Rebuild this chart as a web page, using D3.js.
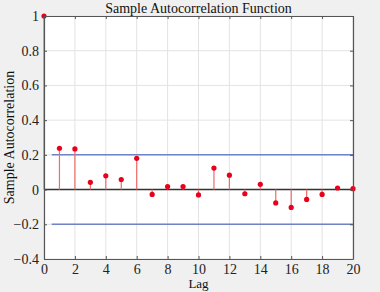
<!DOCTYPE html>
<html>
<head>
<meta charset="utf-8">
<script src="https://cdn.jsdelivr.net/npm/d3@7"></script>
<style>
  html, body { margin: 0; padding: 0; background: #f0f0f0; }
  svg { display: block; }
  svg text { font-family: "Liberation Serif", "Times New Roman", serif; }
</style>
</head>
<body>
<svg id="chart"></svg>
<script>
const lags = d3.range(0, 21);
const acf = [1, 0.238, 0.234, 0.042, 0.079, 0.058, 0.18, -0.028, 0.017, 0.017, -0.031,
  0.124, 0.083, -0.024, 0.03, -0.077, -0.103, -0.057, -0.028, 0.009, 0.005];
const bound = 0.2;
const xTicks = [0, 2, 4, 6, 8, 10, 12, 14, 16, 18, 20];
const yTicks = [-0.4, -0.2, 0, 0.2, 0.4, 0.6, 0.8, 1];

const W = 380, H = 292;
const margin = { top: 16, right: 27, bottom: 33, left: 44 };
const width = W - margin.left - margin.right,
    height = H - margin.top - margin.bottom;

const svgRoot = d3.select("#chart").attr("width", W).attr("height", H);
const svg = svgRoot.append("g").attr("transform", `translate(${margin.left},${margin.top})`);

const x = d3.scaleLinear().domain([0, 20]).range([0, width]);
const y = d3.scaleLinear().domain([-0.4, 1]).range([height, 0]);

svg.append("rect").attr("width", width).attr("height", height).attr("fill", "#fff");

// grid
svg.append("g").selectAll("line").data(xTicks).enter().append("line")
    .attr("x1", d => x(d)).attr("x2", d => x(d))
    .attr("y1", 0).attr("y2", height)
    .attr("stroke", "#e3e3e3").attr("stroke-width", 1);
svg.append("g").selectAll("line").data(yTicks).enter().append("line")
    .attr("y1", d => y(d)).attr("y2", d => y(d))
    .attr("x1", 0).attr("x2", width)
    .attr("stroke", "#e3e3e3").attr("stroke-width", 1);

// confidence bounds
[bound, -bound].forEach(b => {
    svg.append("line")
        .attr("x1", x(0.5)).attr("x2", x(20))
        .attr("y1", y(b)).attr("y2", y(b))
        .attr("stroke", "#6f84c4").attr("stroke-width", 1.5);
});

// zero line
svg.append("line")
    .attr("x1", 0).attr("x2", width)
    .attr("y1", y(0)).attr("y2", y(0))
    .attr("stroke", "#333").attr("stroke-width", 1.5);

// stems
svg.append("g").selectAll("line").data(lags).enter().append("line")
    .attr("x1", d => x(d)).attr("x2", d => x(d))
    .attr("y1", y(0)).attr("y2", d => y(acf[d]))
    .attr("stroke", "#f26b6b").attr("stroke-width", 1.2);

svg.append("g").selectAll("circle").data(lags).enter().append("circle")
    .attr("cx", d => x(d)).attr("cy", d => y(acf[d]))
    .attr("r", 2.6).attr("fill", "#e8001c");

// axes
svg.append("g").attr("transform", `translate(0,${height})`)
    .call(d3.axisBottom(x).tickValues(xTicks).tickSizeInner(-3).tickSizeOuter(0).tickPadding(5));
svg.append("g")
    .call(d3.axisLeft(y).tickValues(yTicks).tickSizeInner(-3).tickSizeOuter(0).tickPadding(5)
        .tickFormat(d => d === 0 ? "0" : d === 1 ? "1" : d3.format(".1f")(d).replace("-", "\u2212")));
svg.append("g").attr("transform", `translate(${width},0)`)
    .call(d3.axisRight(y).tickValues(yTicks).tickSizeInner(-3).tickSizeOuter(0).tickFormat(""));
svg.append("g")
    .call(d3.axisTop(x).tickValues(xTicks).tickSizeInner(-3).tickSizeOuter(0).tickFormat(""));

svg.selectAll(".domain").attr("stroke", "#555").attr("stroke-width", 1.2);
svg.selectAll(".tick line").attr("stroke", "#555");
svg.selectAll(".tick text")
    .style("font-family", "'Liberation Serif', serif")
    .style("font-size", "14px")
    .attr("fill", "#222");

// titles
svgRoot.append("text")
    .attr("x", margin.left + width / 2).attr("y", 13)
    .attr("text-anchor", "middle").style("font-size", "14px").attr("fill", "#111")
    .text("Sample Autocorrelation Function");
svgRoot.append("text")
    .attr("x", margin.left + width / 2).attr("y", 288)
    .attr("text-anchor", "middle").style("font-size", "13px").attr("fill", "#111")
    .text("Lag");
svgRoot.append("text")
    .attr("transform", `translate(14,${margin.top + height / 2}) rotate(-90)`)
    .attr("text-anchor", "middle").style("font-size", "14px").attr("fill", "#111")
    .text("Sample Autocorrelation");
</script>
</body>
</html>
